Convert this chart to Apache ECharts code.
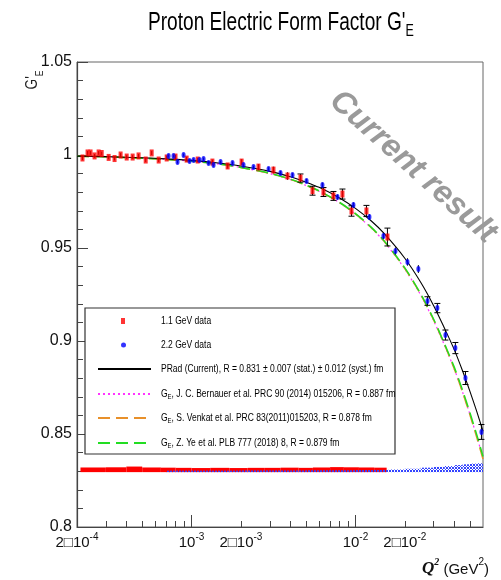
<!DOCTYPE html>
<html><head><meta charset="utf-8">
<script src="https://cdn.jsdelivr.net/npm/echarts@6/dist/echarts.min.js"></script>
<style>html,body{margin:0;padding:0;background:#fff}#c{width:501px;height:580px}</style>
</head><body><div id="c"></div>
<script>
const FONT = "'Liberation Sans Narrow','Liberation Sans',Arial,sans-serif";

// ---------- data ----------
const redQ = [2.16e-4, 2.32e-4, 2.42e-4, 2.56e-4, 2.71e-4, 2.83e-4, 3.12e-4, 3.39e-4, 3.69e-4, 4.02e-4, 4.37e-4, 4.75e-4, 5.25e-4, 5.71e-4, 6.30e-4, 7.05e-4, 7.98e-4, 9.33e-4, 1.09e-3, 1.34e-3, 1.66e-3, 2.02e-3, 2.56e-3, 3.16e-3, 3.85e-3, 4.62e-3, 5.47e-3, 6.38e-3, 7.34e-3, 8.33e-3, 9.46e-3, 1.167e-2, 1.567e-2];
const redG = [0.9984, 1.0011, 1.0011, 0.9995, 1.0011, 1.0008, 0.9987, 0.9981, 1.0000, 0.9989, 0.9989, 0.9995, 0.9973, 1.0011, 0.9973, 0.9984, 0.9989, 0.9978, 0.9973, 0.9962, 0.9941, 0.9962, 0.9935, 0.9919, 0.9887, 0.9876, 0.9808, 0.9801, 0.9780, 0.9790, 0.9699, 0.9699, 0.9559];
const redErr = [0.0012, 0.0010, 0.0010, 0.0010, 0.0010, 0.0010, 0.0010, 0.0010, 0.0010, 0.0010, 0.0010, 0.0010, 0.0011, 0.0011, 0.0011, 0.0011, 0.0011, 0.0012, 0.0012, 0.0013, 0.0014, 0.0015, 0.0016, 0.0018, 0.0020, 0.0022, 0.0024, 0.0024, 0.0024, 0.0027, 0.0028, 0.0030, 0.0048];

const blueQ = [7.24e-4, 7.76e-4, 8.21e-4, 8.94e-4, 9.72e-4, 1.029e-3, 1.119e-3, 1.184e-3, 1.270e-3, 1.362e-3, 1.503e-3, 1.778e-3, 2.075e-3, 2.388e-3, 2.95e-3, 3.49e-3, 4.13e-3, 5.03e-3, 6.29e-3, 7.77e-3, 9.72e-3, 1.217e-2, 1.482e-2, 1.754e-2, 2.076e-2, 2.42e-2, 2.75e-2, 3.16e-2, 3.54e-2, 4.07e-2, 4.69e-2, 5.87e-2];
const blueG = [0.9995, 0.9995, 0.9962, 1.0000, 0.9968, 0.9973, 0.9973, 0.9978, 0.9957, 0.9946, 0.9962, 0.9957, 0.9946, 0.9935, 0.9925, 0.9903, 0.9892, 0.9860, 0.9839, 0.9774, 0.9731, 0.9667, 0.9565, 0.9484, 0.9425, 0.9387, 0.9215, 0.9177, 0.9032, 0.8962, 0.8801, 0.8511];
const blueErr = [0.0008, 0.0008, 0.0008, 0.0008, 0.0008, 0.0008, 0.0008, 0.0008, 0.0008, 0.0008, 0.0008, 0.0008, 0.0008, 0.0008, 0.0009, 0.0010, 0.0010, 0.0011, 0.0012, 0.0013, 0.0014, 0.0015, 0.0017, 0.0019, 0.0020, 0.0021, 0.0023, 0.0025, 0.0027, 0.0030, 0.0035, 0.0040];

const curveQ = [2e-4, 3e-4, 5e-4, 7e-4, 1e-3, 1.5e-3, 2e-3, 3e-3, 4e-3, 5e-3, 6e-3, 8e-3, 1e-2, 1.25e-2, 1.5e-2, 2e-2, 2.5e-2, 3e-2, 3.5e-2, 4e-2, 4.5e-2, 5e-2, 5.5e-2, 6e-2];
const pradG = [0.9994, 0.9991, 0.9985, 0.9979, 0.9971, 0.9956, 0.9941, 0.9912, 0.9883, 0.9854, 0.9826, 0.9769, 0.9713, 0.9645, 0.9577, 0.9445, 0.9316, 0.9190, 0.9067, 0.8955, 0.8840, 0.8728, 0.8620, 0.8515];
const bernauerG = [0.9993, 0.9990, 0.9983, 0.9976, 0.9967, 0.9950, 0.9933, 0.9900, 0.9868, 0.9836, 0.9805, 0.9743, 0.9681, 0.9607, 0.9533, 0.9387, 0.9247, 0.9109, 0.8975, 0.8851, 0.8726, 0.8604, 0.8486, 0.8372];
const venkatG = [0.9993, 0.9990, 0.9983, 0.9976, 0.9967, 0.9950, 0.9933, 0.9901, 0.9869, 0.9837, 0.9806, 0.9744, 0.9683, 0.9609, 0.9535, 0.9390, 0.9250, 0.9113, 0.8979, 0.8852, 0.8725, 0.8601, 0.8481, 0.8365];
const yeG = [0.9993, 0.9990, 0.9983, 0.9976, 0.9967, 0.9950, 0.9933, 0.9902, 0.9870, 0.9838, 0.9807, 0.9745, 0.9685, 0.9611, 0.9537, 0.9393, 0.9253, 0.9117, 0.8983, 0.8861, 0.8736, 0.8613, 0.8495, 0.8379];

const bandBase = 0.8295;
const redBandEdges = [2.1e-4, 3e-4, 4e-4, 5e-4, 6.5e-4, 8e-4, 1e-3, 1.3e-3, 1.7e-3, 2.2e-3, 2.8e-3, 3.5e-3, 4.5e-3, 5.5e-3, 7e-3, 8.5e-3, 1.05e-2, 1.3e-2, 1.55e-2];
const redBandH = [0.0025, 0.0026, 0.0030, 0.0025, 0.0024, 0.0023, 0.0022, 0.0023, 0.0022, 0.0023, 0.0023, 0.0024, 0.0023, 0.0025, 0.0027, 0.0026, 0.0025, 0.0024];
const blueBandEdges = [7e-4, 1e-3, 1.5e-3, 2e-3, 3e-3, 4e-3, 5e-3, 7e-3, 1e-2, 1.3e-2, 1.6e-2, 2e-2, 2.5e-2, 3e-2, 3.5e-2, 4e-2, 4.5e-2, 5e-2, 5.5e-2, 6e-2];
const blueBandH = [0.0008, 0.0008, 0.0008, 0.0009, 0.0009, 0.0009, 0.0010, 0.0010, 0.0011, 0.0012, 0.0014, 0.0018, 0.0024, 0.0028, 0.0033, 0.0038, 0.0042, 0.0046, 0.0048];

const xMin = 2e-4, xMax = 0.06;
const yMin = 0.8, yMax = 1.05, yStep = 0.05;
const xTickValues = [2e-4, 1e-3, 2e-3, 1e-2, 2e-2];
const xTickMant = ['2\u25A110', '10', '2\u25A110', '10', '2\u25A110'];
const xTickExp = ['-4', '-3', '-3', '-2', '-2'];
const xMajorTicks = [1e-3, 1e-2];
const xMinorTicks = [3e-4, 4e-4, 5e-4, 6e-4, 7e-4, 8e-4, 9e-4, 2e-3, 3e-3, 4e-3, 5e-3, 6e-3, 7e-3, 8e-3, 9e-3, 2e-2, 3e-2, 4e-2, 5e-2];

const seriesNames = [
  '1.1 GeV data',
  '2.2 GeV data',
  'PRad (Current), R = 0.831 \u00B1 0.007 (stat.) \u00B1 0.012 (syst.) fm',
  'G_E, J. C. Bernauer et al. PRC 90 (2014) 015206, R = 0.887 fm',
  'G_E, S. Venkat et al. PRC 83(2011)015203, R = 0.878 fm',
  'G_E, Z. Ye et al. PLB 777 (2018) 8, R = 0.879 fm'
];
const titleText = "Proton Electric Form Factor G'";
const titleSub = 'E';
const watermark = 'Current result';

// ---------- chart ----------
const L = Math.log10;
const chart = echarts.init(document.getElementById('c'), null, {renderer: 'canvas'});

const pc = document.createElement('canvas');
pc.width = 3; pc.height = 3;
const pctx = pc.getContext('2d');
pctx.fillStyle = '#3344ff';
pctx.fillRect(0, 0, 1, 1); pctx.fillRect(2, 0, 1, 1); pctx.fillRect(1, 1, 1, 1); pctx.fillRect(0, 2, 1, 1); pctx.fillRect(2, 2, 1, 1);
const bluePattern = {image: pc, repeat: 'repeat'};

function bandSeries(edges, h, fill, z) {
  return {
    type: 'custom', z: z, silent: true, clip: true,
    data: h.map((v, i) => [L(edges[i]), L(edges[i + 1]), v]),
    encode: {x: [0, 1], y: 2},
    renderItem(params, api) {
      const p0 = api.coord([api.value(0), bandBase]);
      const p1 = api.coord([api.value(1), bandBase + api.value(2)]);
      return {type: 'rect', shape: {x: p0[0], y: p1[1], width: p1[0] - p0[0], height: p0[1] - p1[1]}, style: {fill: fill}};
    }
  };
}

function errSeries(q, g, e) {
  return {
    type: 'custom', z: 4, silent: true,
    data: q.map((v, i) => [L(v), g[i], e[i]]),
    encode: {x: 0, y: 1},
    renderItem(params, api) {
      const x = api.value(0), y = api.value(1), er = api.value(2);
      const t = api.coord([x, y + er]), b = api.coord([x, y - er]);
      const st = {stroke: '#000', lineWidth: 1};
      const ch = [{type: 'line', shape: {x1: t[0], y1: t[1], x2: b[0], y2: b[1]}, style: st}];
      if (b[1] - t[1] > 8) {
        ch.push({type: 'line', shape: {x1: t[0] - 3, y1: t[1], x2: t[0] + 3, y2: t[1]}, style: st});
        ch.push({type: 'line', shape: {x1: b[0] - 3, y1: b[1], x2: b[0] + 3, y2: b[1]}, style: st});
      }
      return {type: 'group', children: ch};
    }
  };
}

function curve(name, g, color, width, dash, z) {
  return {
    type: 'line', name: name, z: z, smooth: 0.3, symbol: 'none', showSymbol: false,
    data: curveQ.map((q, i) => [L(q), g[i]]),
    lineStyle: {color: color, width: width, type: dash},
    itemStyle: {color: color}
  };
}

// legend: icons from the legend component, texts drawn narrow
const legendRowY = [321, 345, 369, 394, 418, 443];
const legends = seriesNames.map((n, i) => {
  const isPoint = i < 2;
  const lg = {
    data: [n], left: isPoint ? 121 : 97, top: legendRowY[i] - 3, orient: 'vertical', z: 10,
    itemWidth: isPoint ? (i === 0 ? 4 : 5) : 53, itemHeight: 6, selectedMode: false, padding: 0,
    formatter: () => '', textStyle: {fontSize: 1}
  };
  if (!isPoint) lg.itemStyle = {opacity: 0};
  return lg;
});
const legendTexts = seriesNames.map((n, i) => ({
  type: 'text', z: 100, x: 161, y: legendRowY[i], scaleX: 0.74,
  style: {
    text: n.startsWith('G_E') ? '{t|G}{s|E}{t|' + n.slice(3) + '}' : '{t|' + n + '}',
    verticalAlign: 'middle',
    rich: {
      t: {fontFamily: FONT, fontSize: 11.5, fill: '#000', lineHeight: 14, verticalAlign: 'middle'},
      s: {fontFamily: FONT, fontSize: 8, fill: '#000', lineHeight: 6, verticalAlign: 'bottom'}
    }
  }
}));

const option = {
  backgroundColor: '#fff',
  animation: false,
  grid: {left: 77, right: 18, top: 62, bottom: 53, show: true, borderColor: '#666', borderWidth: 1, backgroundColor: 'transparent'},
  xAxis: [{
    type: 'value', min: L(xMin), max: L(xMax),
    axisLine: {lineStyle: {color: '#444', width: 1.2}},
    splitLine: {show: false},
    axisTick: {inside: true, length: 12, customValues: xMajorTicks.map(L), lineStyle: {color: '#444'}},
    axisLabel: {
      customValues: xTickValues.map(L), margin: 5, showMinLabel: true, hideOverlap: false,
      formatter: v => {
        let k = 0, best = 1e9;
        xTickValues.forEach((tv, i) => { const d = Math.abs(L(tv) - v); if (d < best) { best = d; k = i; } });
        return '{m|' + xTickMant[k] + '}{e|' + xTickExp[k] + '}';
      },
      rich: {
        m: {fontFamily: FONT, fontSize: 15, color: '#111', lineHeight: 18, verticalAlign: 'bottom'},
        e: {fontFamily: FONT, fontSize: 10, color: '#111', lineHeight: 12, verticalAlign: 'top'}
      }
    }
  }, {
    type: 'value', min: L(xMin), max: L(xMax), position: 'bottom',
    axisLine: {show: false}, splitLine: {show: false}, axisLabel: {show: false},
    axisTick: {inside: true, length: 6, customValues: xMinorTicks.map(L), lineStyle: {color: '#444'}}
  }],
  yAxis: {
    type: 'value', min: yMin, max: yMax, interval: yStep,
    axisLine: {show: true, lineStyle: {color: '#444', width: 1.2}},
    splitLine: {show: false},
    axisTick: {inside: true, length: 11, lineStyle: {color: '#444'}},
    minorTick: {show: true, splitNumber: 5, length: 6, lineStyle: {color: '#444'}},
    axisLabel: {fontFamily: FONT, fontSize: 16, color: '#111', margin: 5}
  },
  legend: legends,
  graphic: [
    {type: 'rect', z: 1, shape: {x: 85, y: 308, width: 310, height: 146}, style: {fill: '#fff', stroke: '#333', lineWidth: 1.2}},
    ...legendTexts,
    {type: 'text', z: 100, x: 148, y: 10, scaleX: 0.735, style: {
      text: '{a|' + titleText + '}{s|' + titleSub + '}',
      rich: {
        a: {fontFamily: FONT, fontSize: 26, fill: '#000', lineHeight: 30, verticalAlign: 'top'},
        s: {fontFamily: FONT, fontSize: 17, fill: '#000', lineHeight: 16, verticalAlign: 'bottom'}
      }}},
    {type: 'text', z: 100, x: 35, y: 80, rotation: Math.PI / 2, scaleX: 0.85, style: {
      text: "{a|G'}{s|E}", align: 'center', verticalAlign: 'middle',
      rich: {
        a: {fontFamily: FONT, fontSize: 16, fill: '#222', lineHeight: 20, verticalAlign: 'top'},
        s: {fontFamily: FONT, fontSize: 10, fill: '#222', lineHeight: 10, verticalAlign: 'bottom'}
      }}},
    {type: 'text', z: 100, x: 422, y: 557, style: {
      text: '{q|Q}{qs|2}{u| (GeV}{us|2}{u|)}',
      rich: {
        q: {fontFamily: "'Liberation Serif',serif", fontStyle: 'italic', fontWeight: 'bold', fontSize: 17, fill: '#111', lineHeight: 20, verticalAlign: 'bottom'},
        qs: {fontFamily: "'Liberation Serif',serif", fontStyle: 'italic', fontWeight: 'bold', fontSize: 10, fill: '#111', lineHeight: 10, verticalAlign: 'top'},
        u: {fontFamily: FONT, fontSize: 15, fill: '#111', lineHeight: 20, verticalAlign: 'bottom'},
        us: {fontFamily: FONT, fontSize: 10, fill: '#111', lineHeight: 10, verticalAlign: 'top'}
      }}},
    {type: 'text', z: 0, x: 413, y: 167, rotation: -0.73, style: {
      text: watermark, align: 'center', verticalAlign: 'middle',
      font: "italic bold 32px 'Liberation Sans', Arial, sans-serif", fill: '#9a9a9a'}}
  ],
  series: [
    bandSeries(redBandEdges, redBandH, '#ff0000', 1),
    bandSeries(blueBandEdges, blueBandH, bluePattern, 2),
    curve(seriesNames[3], bernauerG, '#ff33ff', 1.2, [2, 3], 3),
    curve(seriesNames[4], venkatG, '#e8902a', 1.5, [12, 6], 3),
    curve(seriesNames[5], yeG, '#22dd22', 1.5, [12, 6], 3),
    curve(seriesNames[2], pradG, '#000000', 1.1, 'solid', 3),
    errSeries(redQ, redG, redErr),
    errSeries(blueQ, blueG, blueErr),
    {type: 'scatter', name: seriesNames[0], z: 5, symbol: 'rect', symbolSize: [4, 7],
      data: redQ.map((q, i) => [L(q), redG[i]]), itemStyle: {color: '#ff0000'}},
    {type: 'scatter', name: seriesNames[1], z: 5, symbol: 'circle', symbolSize: [4, 6],
      data: blueQ.map((q, i) => [L(q), blueG[i]]), itemStyle: {color: '#0000ff'}}
  ]
};
chart.setOption(option);
</script>
</body></html>
